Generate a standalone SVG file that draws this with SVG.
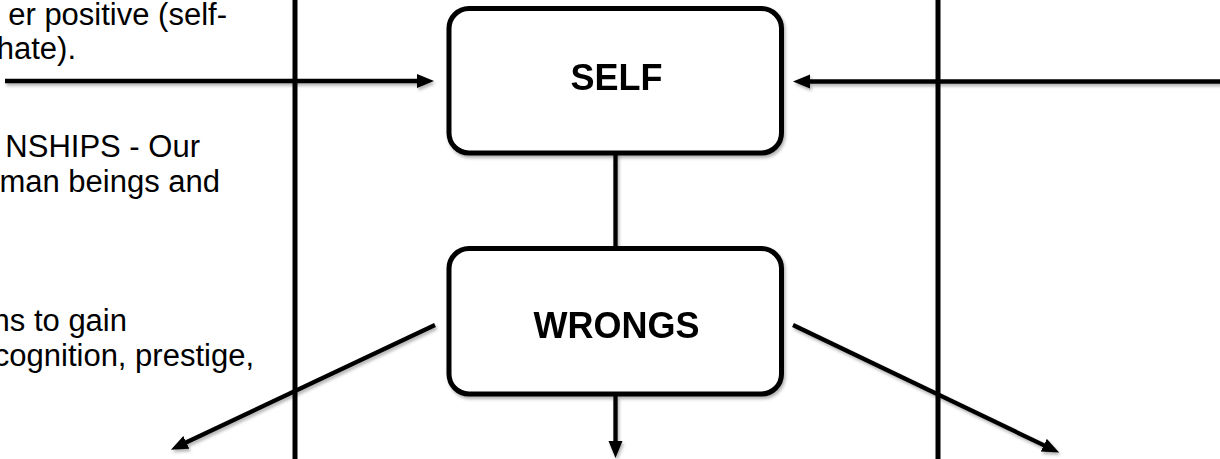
<svg xmlns="http://www.w3.org/2000/svg" width="1220" height="459" viewBox="0 0 1220 459">
  <style>
    .body { font-family: "Liberation Sans", Arial, sans-serif; font-size: 31px; fill: #000; text-anchor: end; }
    .label { font-family: "Liberation Sans", Arial, sans-serif; font-size: 36px; font-weight: bold; fill: #000; text-anchor: middle; }
    .box { fill: #fff; stroke: #000; stroke-width: 5; }
    .divider { stroke: #000; stroke-width: 5; }
    .conn { stroke: #000; stroke-width: 4.3; fill: none; }
    .arrow { marker-end: url(#head); }
  </style>
  <defs>
    <filter id="sh" filterUnits="userSpaceOnUse" x="0" y="0" width="1220" height="459">
      <feDropShadow dx="1.5" dy="2.5" stdDeviation="1.5" flood-color="#000" flood-opacity="0.3"/>
    </filter>
    <marker id="head" markerUnits="userSpaceOnUse" markerWidth="20" markerHeight="16" refX="1" refY="7" orient="auto">
      <path d="M0,0 L17,7 L0,14 z" fill="#000"/>
    </marker>
  </defs>
  <rect width="1220" height="459" fill="#fff"/>

  <g id="left-text">
    <text class="body" x="227" y="25">er positive (self-</text>
    <text class="body" x="76" y="59">hate).</text>
    <text class="body" x="200" y="157">NSHIPS - Our</text>
    <text class="body" x="220" y="192">man beings and</text>
    <text class="body" x="127" y="331">ns to gain</text>
    <text class="body" x="254" y="366">cognition, prestige,</text>
  </g>

  <g id="dividers">
    <line class="divider" x1="295" y1="0" x2="295" y2="459"/>
    <line class="divider" x1="938" y1="0" x2="938" y2="459"/>
  </g>

  <g id="connectors" filter="url(#sh)">
    <line class="conn arrow" x1="5" y1="81" x2="418" y2="81"/>
    <line class="conn arrow" x1="1225" y1="81.5" x2="809" y2="81.5"/>
    <line class="conn" x1="615.5" y1="153" x2="615.5" y2="248.5"/>
    <line class="conn arrow" x1="615.5" y1="396" x2="615.5" y2="442"/>
    <line class="conn arrow" x1="435" y1="325" x2="185.4" y2="442.8"/>
    <line class="conn arrow" x1="793" y1="325" x2="1044.7" y2="445.6"/>
  </g>

  <g id="self" filter="url(#sh)">
    <rect class="box" x="449" y="8.5" width="332.5" height="144.5" rx="20" ry="20"/>
    <text class="label" x="616.5" y="90">SELF</text>
  </g>

  <g id="wrongs" filter="url(#sh)">
    <rect class="box" x="449" y="248.5" width="332.5" height="145.5" rx="20" ry="20"/>
    <text class="label" x="616.5" y="338">WRONGS</text>
  </g>
</svg>
